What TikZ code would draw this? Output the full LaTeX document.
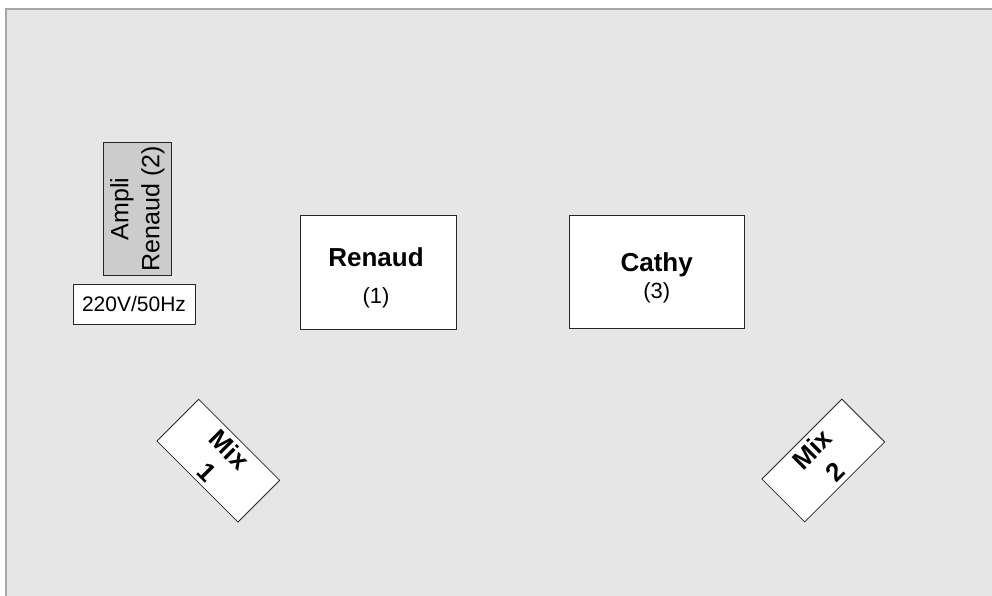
\documentclass[tikz,border=0pt]{standalone}
\usepackage{fontspec}
\setmainfont{Liberation Sans}
\definecolor{bgcol}{HTML}{E6E6E6}
\definecolor{framecol}{HTML}{A6A6A6}
\definecolor{amplicol}{HTML}{CCCCCC}
\definecolor{edgecol}{HTML}{262626}
\tikzset{
  box/.style={draw=edgecol, line width=0.8pt, fill=white, inner sep=0pt, outer sep=0pt},
  label/.style={inner sep=0pt, anchor=base},
  big/.style={font=\fontsize{26}{30}\selectfont\bfseries},
  small/.style={font=\fontsize{22}{26}\selectfont},
  mixtext/.style={align=center, font=\fontsize{26}{32}\selectfont\bfseries},
}
\begin{document}
\begin{tikzpicture}[x=1pt,y=-1pt]
\useasboundingbox (0,0) rectangle (992,596);
\path[fill=bgcol, draw=framecol, line width=1.3pt] (6,9) rectangle (1000,610);
% amplifier
\node[box, fill=amplicol, rotate=90, minimum width=132.3pt, minimum height=68.4pt,
      align=center, font=\fontsize{25}{31}\selectfont] (ampli) at (137.5,208.9) {Ampli\\Renaud (2)};
\node[box, minimum width=122pt, minimum height=40pt, font=\fontsize{21}{25}\selectfont] (power) at (134,304) {220V/50Hz};
% Renaud
\node[box, minimum width=156pt, minimum height=114pt] (renaud) at (378,272) {};
\node[label, big] (renaudname) at (376,266.7) {Renaud};
\node[label, small] (renaudnum) at (376,303) {(1)};
% Cathy
\node[box, minimum width=175pt, minimum height=113pt] (cathy) at (656.5,271.5) {};
\node[label, big] (cathyname) at (656.7,271) {Cathy};
\node[label, small] (cathynum) at (656.7,298.5) {(3)};
% mixes
\node[box, rotate=-45, minimum width=114.6pt, minimum height=59pt, mixtext] (mix1) at (218.3,460.7) {Mix\\1};
\node[box, rotate=45, minimum width=113pt, minimum height=60.6pt, mixtext] (mix2) at (823.3,460.5) {Mix\\2};
\end{tikzpicture}
\end{document}
